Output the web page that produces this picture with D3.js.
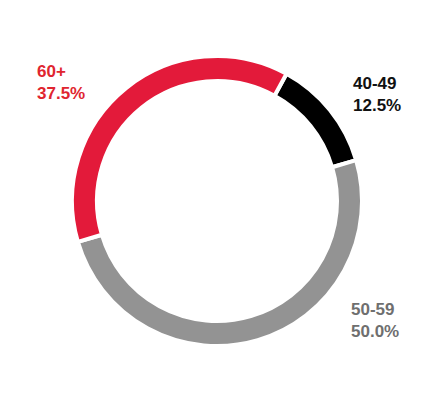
<!DOCTYPE html>
<html>
<head>
<meta charset="utf-8">
<script src="https://cdn.jsdelivr.net/npm/d3@7"></script>
<style>
  html, body { margin: 0; padding: 0; background: #fff; }
  svg { display: block; }
  text { font-family: Arial, "Liberation Sans", Helvetica, sans-serif; font-weight: bold; font-size: 17px; }
</style>
</head>
<body>
<svg id="chart" width="432" height="402"></svg>
<script>
const categories = ["40-49", "50-59", "60+"];
const values = [12.5, 50.0, 37.5];
const percentLabels = ["12.5%", "50.0%", "37.5%"];
const arcColors = ["#000000", "#939393", "#e31a3a"];
const textColors = ["#111111", "#6f6f6f", "#e0252f"];

const svg = d3.select("#chart");
const cx = 217, cy = 201;
const outerR = 145, innerR = 120;
const start = 0.5;

const pie = d3.pie().sort(null).value(d => d)
  .startAngle(start).endAngle(start + 2 * Math.PI);
const arcs = pie(values);
const arc = d3.arc().innerRadius(innerR).outerRadius(outerR);

const g = svg.append("g").attr("transform", `translate(${cx},${cy})`);
g.selectAll("path").data(arcs).enter().append("path")
  .attr("d", arc)
  .attr("fill", (d, i) => arcColors[i])
  .attr("stroke", "#fff")
  .attr("stroke-width", 4)
  .attr("stroke-linejoin", "miter");

// label placement (layout only)
const labelPos = [
  { x: 353, y: 89 },
  { x: 351, y: 315 },
  { x: 37, y: 77 }
];
const lineGap = 22;
categories.forEach((c, i) => {
  const t = svg.append("text")
    .attr("x", labelPos[i].x)
    .attr("y", labelPos[i].y)
    .attr("fill", textColors[i]);
  t.append("tspan").attr("x", labelPos[i].x).text(c);
  t.append("tspan").attr("x", labelPos[i].x).attr("dy", lineGap).text(percentLabels[i]);
});
</script>
</body>
</html>
